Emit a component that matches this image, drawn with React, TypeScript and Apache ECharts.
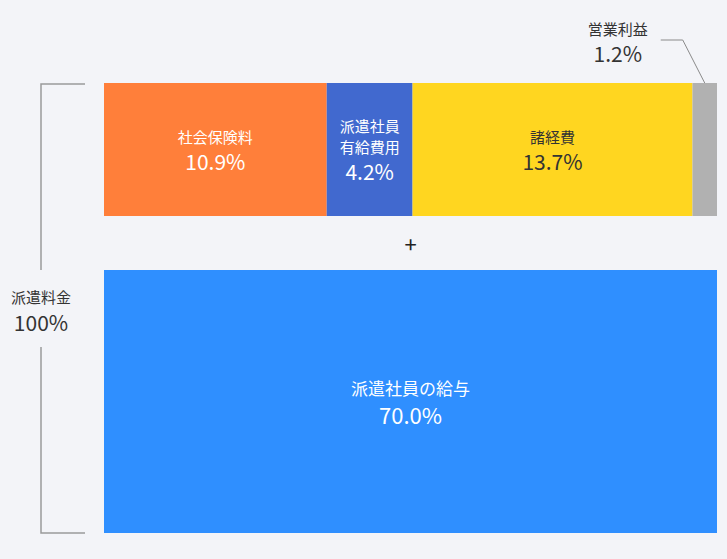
import React, { useEffect, useRef } from 'react';
import * as echarts from 'echarts';

// top bar: breakdown of the remaining 30%
const topNames = ['社会保険料', '派遣社員\n有給費用', '諸経費', '営業利益'];
const topValues = [10.9, 4.2, 13.7, 1.2];
// bottom bar
const bottomName = '派遣社員の給与';
const bottomValue = 70.0;
// bracket total
const totalName = '派遣料金';
const totalValue = 100;

const topColors = ['#ff7f3a', '#4169cf', '#ffd620', '#b1b1b1'];
const topTextColors = ['#ffffff', '#ffffff', '#333333', '#333333'];
const bottomColor = '#2f8fff';

const FONT = '"Noto Sans CJK JP", "Noto Sans", sans-serif';
const LEFT = 104;
const WIDTH = 613;
const TOP_Y = 83;
const TOP_H = 133;
const BOT_Y = 270;
const BOT_H = 263;

const fmtLabel = (name: string, value: number) =>
  name
    .split('\n')
    .map((l) => `{n|${l}}`)
    .join('\n') + `\n{v|${value.toFixed(1)}%}`;

const App: React.FC = () => {
  const chartRef = useRef<HTMLDivElement>(null);

  useEffect(() => {
    if (!chartRef.current) return;
    document.body.style.margin = '0';
    document.body.style.background = '#f3f4f8';

    const chart = echarts.init(chartRef.current, undefined, { renderer: 'svg' });
    const topTotal = topValues.reduce((a, b) => a + b, 0);

    const topSeries = topNames.map((name, i) => {
      const isOutside = i === topNames.length - 1;
      return {
        type: 'bar' as const,
        name,
        stack: 'top',
        xAxisIndex: 0,
        yAxisIndex: 0,
        barWidth: '100%',
        data: [topValues[i]],
        itemStyle: { color: topColors[i] },
        label: {
          show: true,
          position: isOutside ? ('top' as const) : ('inside' as const),
          offset: isOutside ? [-87, -12] : [0, 0],
          align: 'center' as const,
          formatter: () => fmtLabel(name, topValues[i]),
          rich: {
            n: {
              fontFamily: FONT,
              fontSize: 15,
              lineHeight: i === 1 ? 21 : 22,
              color: topTextColors[i],
              align: 'center' as const,
            },
            v: {
              fontFamily: FONT,
              fontSize: 21,
              lineHeight: 27,
              color: topTextColors[i],
              align: 'center' as const,
            },
          },
        },
      };
    });

    const option: echarts.EChartsOption = {
      animation: false,
      backgroundColor: '#f3f4f8',
      grid: [
        { left: LEFT, top: TOP_Y, width: WIDTH, height: TOP_H },
        { left: LEFT, top: BOT_Y, width: WIDTH, height: BOT_H },
      ],
      xAxis: [
        { type: 'value', gridIndex: 0, min: 0, max: topTotal, show: false },
        { type: 'value', gridIndex: 1, min: 0, max: bottomValue, show: false },
      ],
      yAxis: [
        { type: 'category', gridIndex: 0, data: ['top'], show: false },
        { type: 'category', gridIndex: 1, data: ['bottom'], show: false },
      ],
      series: [
        ...topSeries,
        {
          type: 'bar',
          name: bottomName,
          xAxisIndex: 1,
          yAxisIndex: 1,
          barWidth: '100%',
          data: [bottomValue],
          itemStyle: { color: bottomColor },
          label: {
            show: true,
            position: 'inside',
            formatter: () => fmtLabel(bottomName, bottomValue),
            rich: {
              n: { fontFamily: FONT, fontSize: 17, lineHeight: 24, color: '#fff', align: 'center' },
              v: { fontFamily: FONT, fontSize: 22, lineHeight: 28, color: '#fff', align: 'center' },
            },
          },
        },
      ],
    };

    chart.setOption(option);

    // guide line for the small outside segment
    const lastStart = topValues.slice(0, -1).reduce((a, b) => a + b, 0);
    const lastMid = lastStart + topValues[topValues.length - 1] / 2;
    const gx = chart.convertToPixel({ xAxisIndex: 0 }, lastMid) as number;
    const bracketX = 41;
    const tickX = 85;
    const textY = 309;

    chart.setOption({
      graphic: [
        {
          type: 'polyline',
          silent: true,
          shape: { points: [[gx, TOP_Y], [gx - 22, TOP_Y - 43], [gx - 44, TOP_Y - 43]] },
          style: { stroke: '#8a8a8a', lineWidth: 1, fill: 'none' },
        },
        {
          type: 'polyline',
          silent: true,
          shape: { points: [[tickX, TOP_Y + 1], [bracketX, TOP_Y + 1], [bracketX, textY - 39]] },
          style: { stroke: '#9a9a9a', lineWidth: 1.5, fill: 'none' },
        },
        {
          type: 'polyline',
          silent: true,
          shape: { points: [[bracketX, textY + 38], [bracketX, BOT_Y + BOT_H], [tickX, BOT_Y + BOT_H]] },
          style: { stroke: '#9a9a9a', lineWidth: 1.5, fill: 'none' },
        },
        {
          type: 'text',
          silent: true,
          x: bracketX,
          y: textY - 13,
          style: {
            text: totalName,
            fontFamily: FONT,
            fontSize: 15,
            fill: '#333',
            align: 'center',
            verticalAlign: 'middle',
          },
        },
        {
          type: 'text',
          silent: true,
          x: bracketX,
          y: textY + 13,
          style: {
            text: `${totalValue}%`,
            fontFamily: FONT,
            fontSize: 21,
            fill: '#333',
            align: 'center',
            verticalAlign: 'middle',
          },
        },
        {
          type: 'text',
          silent: true,
          x: LEFT + WIDTH / 2,
          y: (TOP_Y + TOP_H + BOT_Y) / 2,
          style: {
            text: '+',
            fontFamily: FONT,
            fontSize: 22,
            fill: '#222',
            align: 'center',
            verticalAlign: 'middle',
          },
        },
      ],
    });

    const handleResize = () => chart.resize();
    window.addEventListener('resize', handleResize);
    return () => {
      window.removeEventListener('resize', handleResize);
      chart.dispose();
    };
  }, []);

  return <div ref={chartRef} style={{ width: '727px', height: '559px' }} />;
};

export default App;
